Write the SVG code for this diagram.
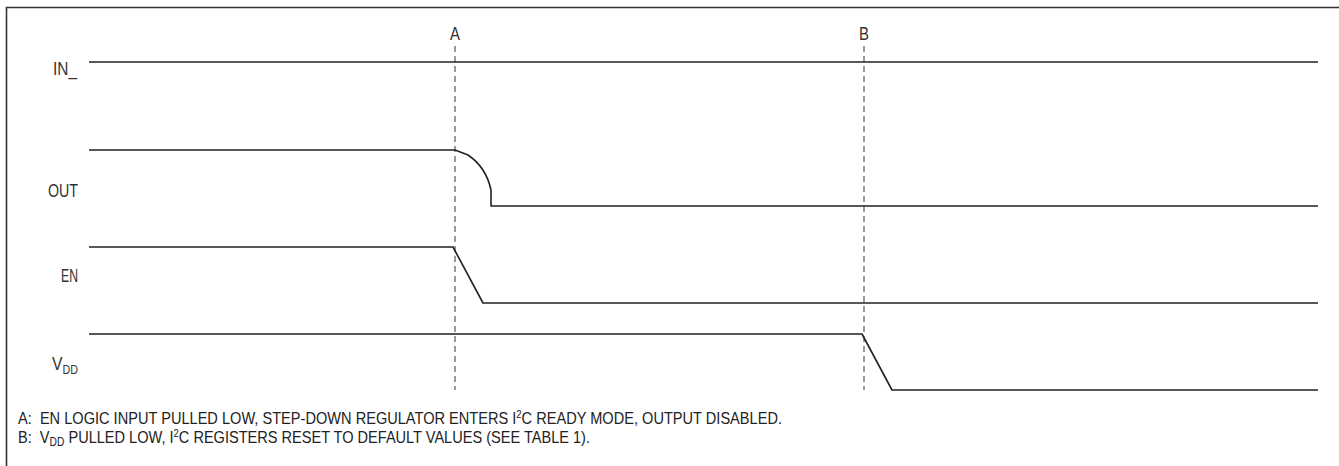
<svg xmlns="http://www.w3.org/2000/svg" width="1339" height="466" viewBox="0 0 1339 466">
<style>
.t{font-family:"Liberation Sans",Arial,sans-serif;font-size:19px;fill:#333}
.f{font-family:"Liberation Sans",Arial,sans-serif;font-size:17px;fill:#222}
.w{fill:none;stroke:#222;stroke-width:1.6;stroke-linejoin:round}
.d{stroke:#666;stroke-width:1.3;stroke-dasharray:6,4}
</style>
<rect width="1339" height="466" fill="#fff"/>
<path d="M6.5,466 V7.5 H1339" fill="none" stroke="#333" stroke-width="1.6"/>
<g id="markers">
<line class="d" x1="455" y1="46" x2="455" y2="390"/>
<line class="d" x1="864" y1="46" x2="864" y2="390"/>
<text class="t" x="455" y="40" text-anchor="middle" textLength="10" lengthAdjust="spacingAndGlyphs">A</text>
<text class="t" x="864" y="40" text-anchor="middle" textLength="10" lengthAdjust="spacingAndGlyphs">B</text>
</g>
<g id="connectors">
<path id="in-wave" class="w" d="M89,62 H1318"/>
<path id="out-wave" class="w" d="M89,150 H455 L468,155 Q486,167 491,190 V206 H1318"/>
<path id="en-wave" class="w" d="M89,247 H453 L483,303 H1318"/>
<path id="vdd-wave" class="w" d="M89,334 H862 L892,390 H1318"/>
</g>
<g id="labels">
<text class="t" x="53" y="75" textLength="24" lengthAdjust="spacingAndGlyphs">IN_</text>
<text class="t" x="48" y="197" textLength="30" lengthAdjust="spacingAndGlyphs">OUT</text>
<text class="t" x="61" y="282" textLength="17" lengthAdjust="spacingAndGlyphs">EN</text>
<text class="t" x="52" y="370" textLength="26" lengthAdjust="spacingAndGlyphs">V<tspan font-size="13" dy="4">DD</tspan></text>
</g>
<g id="notes">
<text class="f" x="18" y="424" textLength="764" lengthAdjust="spacingAndGlyphs" xml:space="preserve">A:  EN LOGIC INPUT PULLED LOW, STEP-DOWN REGULATOR ENTERS I<tspan font-size="11" dy="-6">2</tspan><tspan dy="6">C READY MODE, OUTPUT DISABLED.</tspan></text>
<text class="f" x="18" y="443" textLength="572" lengthAdjust="spacingAndGlyphs" xml:space="preserve">B:  V<tspan font-size="12" dy="3">DD</tspan><tspan dy="-3"> PULLED LOW, I</tspan><tspan font-size="11" dy="-6">2</tspan><tspan dy="6">C REGISTERS RESET TO DEFAULT VALUES (SEE TABLE 1).</tspan></text>
</g>
</svg>
